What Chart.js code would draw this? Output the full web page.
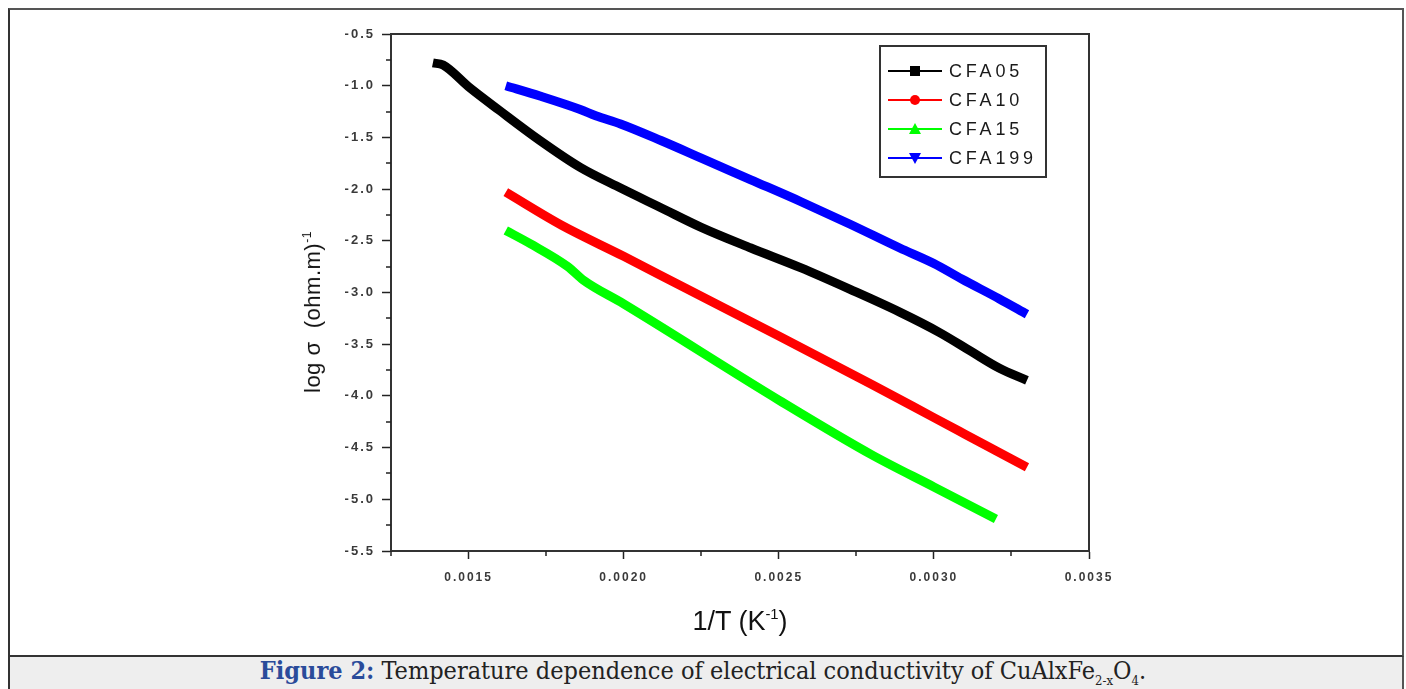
<!DOCTYPE html>
<html>
<head>
<meta charset="utf-8">
<script src="https://cdn.jsdelivr.net/npm/chart.js@4.4.1/dist/chart.umd.min.js"></script>
<style>
  html, body { margin: 0; padding: 0; background: #fff; width: 1406px; height: 689px; overflow: hidden; }
  #frame { position: absolute; left: 8px; top: 8px; width: 1392px; height: 645px;
           border-top: 2px solid #555; border-left: 2px solid #333; border-right: 2px solid #555;
           border-bottom: 2px solid #333; background: #fff; }
  #capbox { position: absolute; left: 8px; top: 657px; width: 1392px; height: 40px;
            border-left: 2px solid #333; border-right: 2px solid #555; background: #eeeeee; }
  #caption { position: absolute; left: 0; width: 1406px; top: 656px; text-align: center;
             font-family: "DejaVu Serif Condensed", "DejaVu Serif", serif; font-size: 25px; color: #222; }
  #caption b { color: #2a4b9a; }
  #caption sub { font-size: 13px; }
  #cv { position: absolute; left: 0; top: 0; }
  .axt { position: absolute; font-family: "Liberation Sans", Arial, sans-serif; color: #111; white-space: nowrap; }
  #xt { left: 0; width: 1480px; top: 606px; text-align: center; font-size: 27px; }
  #yt { left: 313px; top: 312px; font-size: 22px; letter-spacing: 0.5px; transform: translate(-50%, -50%) rotate(-90deg); }
  .axt sup { font-size: 0.55em; vertical-align: 0.75em; }
</style>
</head>
<body>
<div id="frame"></div>
<div id="capbox"></div>
<div id="caption"><b>Figure 2:</b> Temperature dependence of electrical conductivity of CuAlxFe<sub>2-x</sub>O<sub>4</sub>.</div>
<canvas id="cv" width="1406" height="655"></canvas>
<div class="axt" id="xt">1/T (K<sup>-1</sup>)</div>
<div class="axt" id="yt">log σ&nbsp; (ohm.m)<sup>-1</sup></div>
<script>
// ---- data ----
const seriesNames = ["CFA05", "CFA10", "CFA15", "CFA199"];

const cfa05X = [0.001385, 0.001418, 0.00150, 0.00160, 0.00173, 0.00186, 0.00199, 0.00212, 0.00225, 0.00241, 0.00257, 0.00273, 0.00289, 0.00302, 0.00312, 0.00321, 0.00330];
const cfa05Y = [-0.78, -0.80, -1.01, -1.24, -1.53, -1.79, -1.99, -2.18, -2.37, -2.57, -2.76, -2.97, -3.19, -3.39, -3.57, -3.73, -3.85];

const cfa10X = [0.00162, 0.00180, 0.00200, 0.00220, 0.00250, 0.00280, 0.00300, 0.00310, 0.00320, 0.00330];
const cfa10Y = [-2.03, -2.35, -2.65, -2.96, -3.42, -3.89, -4.21, -4.37, -4.53, -4.69];

const cfa15X = [0.00162, 0.00170, 0.00182, 0.00187, 0.00200, 0.00250, 0.00280, 0.00300, 0.00320];
const cfa15Y = [-2.40, -2.53, -2.75, -2.88, -3.11, -4.04, -4.57, -4.88, -5.19];

const cfa199X = [0.00162, 0.00173, 0.00186, 0.00191, 0.00199, 0.00212, 0.00225, 0.00241, 0.00257, 0.00273, 0.00289, 0.00300, 0.00309, 0.00321, 0.00330];
const cfa199Y = [-1.00, -1.10, -1.23, -1.29, -1.37, -1.53, -1.70, -1.91, -2.12, -2.34, -2.57, -2.72, -2.87, -3.06, -3.21];

const xTicks = [0.0015, 0.0020, 0.0025, 0.0030, 0.0035];
const xMinorTicks = [0.00125, 0.00175, 0.00225, 0.00275, 0.00325];
const yTicks = [-0.5, -1.0, -1.5, -2.0, -2.5, -3.0, -3.5, -4.0, -4.5, -5.0, -5.5];
const yMinorTicks = [-0.75, -1.25, -1.75, -2.25, -2.75, -3.25, -3.75, -4.25, -4.75, -5.25];

const colors = ["#000000", "#ff0000", "#00ff00", "#0000ff"];
const markers = ["rect", "circle", "triangle", "triangleDown"];

function pts(xs, ys) { return xs.map((x, i) => ({ x: x, y: ys[i] })); }
const seriesData = [pts(cfa05X, cfa05Y), pts(cfa10X, cfa10Y), pts(cfa15X, cfa15Y), pts(cfa199X, cfa199Y)];

const datasets = seriesNames.map((name, i) => ({
  label: name,
  data: seriesData[i],
  showLine: true,
  borderColor: colors[i],
  backgroundColor: colors[i],
  borderWidth: 9,
  pointRadius: 0,
  cubicInterpolationMode: 'monotone',
  borderCapStyle: 'butt'
}));

function drawMarker(ctx, type, cx, cy, r) {
  ctx.beginPath();
  if (type === 'rect') { ctx.rect(cx - r, cy - r, 2 * r, 2 * r); }
  else if (type === 'circle') { ctx.arc(cx, cy, r, 0, Math.PI * 2); }
  else if (type === 'triangle') { ctx.moveTo(cx, cy - r - 1); ctx.lineTo(cx + r + 1, cy + r); ctx.lineTo(cx - r - 1, cy + r); ctx.closePath(); }
  else { ctx.moveTo(cx - r - 1, cy - r); ctx.lineTo(cx + r + 1, cy - r); ctx.lineTo(cx, cy + r + 1); ctx.closePath(); }
  ctx.fill();
}

const framePlugin = {
  id: 'frameAndMinor',
  beforeDraw(chart) {
    chart.ctx.letterSpacing = '2px';
  },
  afterDraw(chart) {
    const ctx = chart.ctx, a = chart.chartArea;
    const xs = chart.scales.x, ys = chart.scales.y;
    ctx.letterSpacing = '0px';
    ctx.save();
    // frame
    ctx.strokeStyle = '#333'; ctx.lineWidth = 2;
    ctx.strokeRect(a.left, a.top, a.right - a.left, a.bottom - a.top);
    // minor ticks
    ctx.lineWidth = 1.5; ctx.strokeStyle = '#222';
    ctx.beginPath();
    xMinorTicks.forEach(v => { const p = Math.round(xs.getPixelForValue(v)); ctx.moveTo(p, a.bottom); ctx.lineTo(p, a.bottom + 5); });
    yMinorTicks.forEach(v => { const p = Math.round(ys.getPixelForValue(v)); ctx.moveTo(a.left, p); ctx.lineTo(a.left - 5, p); });
    ctx.stroke();
    // legend
    const bx = 880, by = 46, bw = 166, bh = 131;
    ctx.strokeStyle = '#333'; ctx.lineWidth = 2;
    ctx.strokeRect(bx, by, bw, bh);
    ctx.font = '18px "Liberation Sans", Arial, sans-serif';
    ctx.letterSpacing = '3.8px';
    ctx.textBaseline = 'middle';
    chart.data.datasets.forEach((ds, i) => {
      const y = 71 + i * 29;
      ctx.strokeStyle = ds.borderColor; ctx.fillStyle = ds.borderColor; ctx.lineWidth = 2;
      ctx.beginPath(); ctx.moveTo(888, y); ctx.lineTo(942, y); ctx.stroke();
      drawMarker(ctx, markers[i], 915, y, 5);
      ctx.fillStyle = '#1a1a1a';
      ctx.fillText(ds.label, 949, y + 1);
    });
    ctx.restore();
  }
};

new Chart(document.getElementById('cv'), {
  type: 'scatter',
  data: { datasets: datasets },
  options: {
    responsive: false,
    animation: false,
    events: [],
    layout: { padding: { left: 0, top: 34, right: 1406 - 1089, bottom: 0 } },
    plugins: { legend: { display: false }, tooltip: { enabled: false } },
    scales: {
      x: {
        type: 'linear', min: 0.00125, max: 0.0035,
        afterBuildTicks: s => { s.ticks = xTicks.map(v => ({ value: v })); },
        afterFit: s => { s.height = 655 - 551; s.paddingLeft = 0; s.paddingRight = 0; },
        ticks: { callback: v => Number(v).toFixed(4), font: { family: '"Liberation Sans", Arial, sans-serif', size: 12, weight: 'bold' }, color: '#3a3a3a', padding: 11, maxRotation: 0, autoSkip: false },
        grid: { drawOnChartArea: false, drawTicks: true, tickLength: 8, tickWidth: 1.5, tickColor: '#222' },
        border: { display: true, color: '#222', width: 2 }
      },
      y: {
        type: 'linear', min: -5.5, max: -0.5,
        afterBuildTicks: s => { s.ticks = yTicks.map(v => ({ value: v })); },
        afterFit: s => { s.width = 391; s.paddingTop = 0; s.paddingBottom = 0; },
        ticks: { callback: v => Number(v).toFixed(1), font: { family: '"Liberation Sans", Arial, sans-serif', size: 13, weight: 'bold' }, color: '#3a3a3a', padding: 7, autoSkip: false },
        grid: { drawOnChartArea: false, drawTicks: true, tickLength: 9, tickWidth: 1.5, tickColor: '#222' },
        border: { display: true, color: '#222', width: 2 }
      }
    }
  },
  plugins: [framePlugin]
});
</script>
</body>
</html>
